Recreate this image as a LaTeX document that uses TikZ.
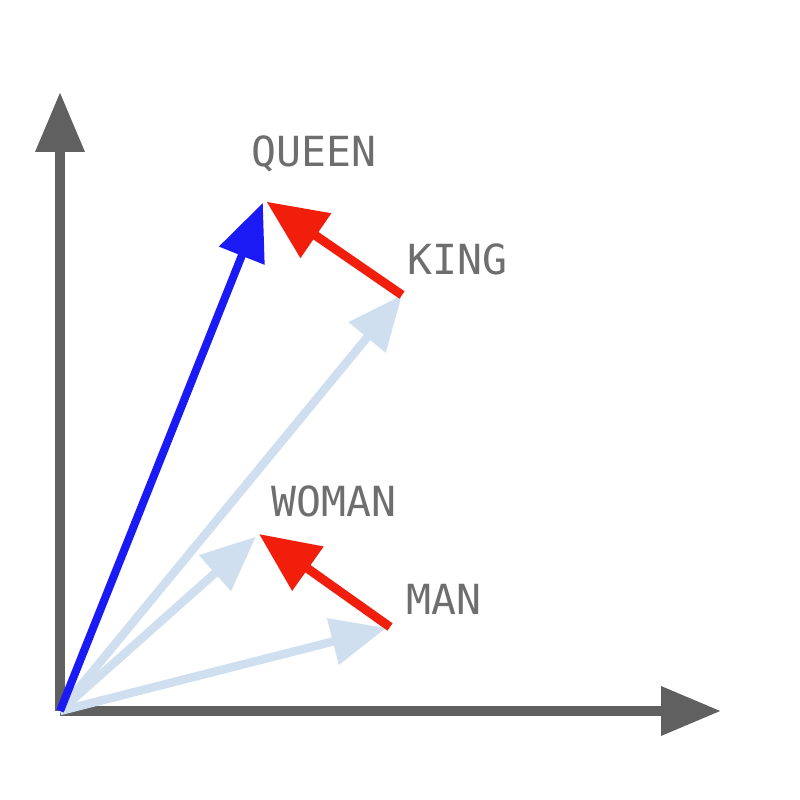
\documentclass[tikz,border=0pt]{standalone}
\usepackage{fontspec}
\setmonofont{DejaVu Sans Mono}
\usetikzlibrary{arrows.meta}
\definecolor{axisgray}{HTML}{606060}
\definecolor{labelgray}{HTML}{6E6E6E}
\definecolor{paleblue}{HTML}{CFDFF0}
\definecolor{vecblue}{HTML}{1A1AF5}
\definecolor{vecred}{HTML}{F01E0A}
\begin{document}
\begin{tikzpicture}[axis/.style={draw=axisgray, line width=0.1cm, -{Triangle[length=0.6cm,width=0.47cm]}},
  word/.style={text=labelgray, font=\ttfamily\fontsize{11.8}{14}\selectfont, inner sep=0pt, anchor=base west},
  pale/.style={draw=paleblue, line width=0.085cm, -{Triangle[length=0.55cm,width=0.46cm]}},
  result/.style={draw=vecblue, line width=0.08cm, -{Triangle[length=0.57cm,width=0.47cm]}},
  offset/.style={draw=vecred, line width=0.09cm, -{Triangle[length=0.6cm,width=0.52cm]}}]
\useasboundingbox (0,0) rectangle (8,8);
\coordinate (o) at (0.60,0.89);
\coordinate (ytip) at (0.60,7.08);
\coordinate (xtip) at (7.21,0.89);
\coordinate (queen) at (2.64,6.00);
\coordinate (king) at (4.02,5.05);
\coordinate (woman) at (2.59,2.66);
\coordinate (man) at (3.90,1.73);
\draw[axis] (o) -- (ytip);
\draw[axis] (o) -- (xtip);
\draw[pale] (o) -- (king);
\draw[pale, shorten >=0.04cm] (o) -- (woman);
\draw[pale, shorten >=0.04cm] (o) -- (man);
\draw[result, shorten >=0.03cm] (o) -- (queen);
\draw[offset, shorten >=0.03cm] (king) -- (queen);
\draw[offset] (man) -- (woman);
\node[word] (q) at (2.51,8.00-1.665) {QUEEN};
\node[word] (k) at (4.07,8.00-2.75) {KING};
\node[word] (w) at (2.71,8.00-5.17) {WOMAN};
\node[word] (m) at (4.06,8.00-6.15) {MAN};
\end{tikzpicture}
\end{document}
